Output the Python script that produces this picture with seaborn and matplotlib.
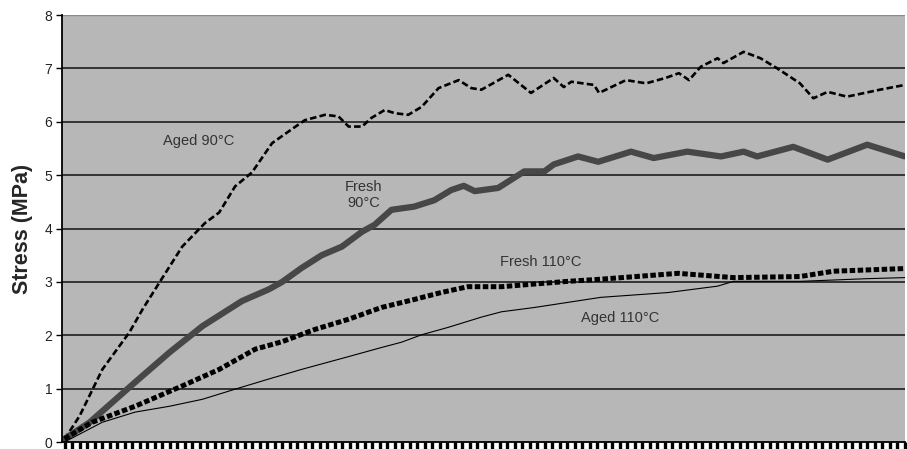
import numpy as np
import matplotlib
matplotlib.use("Agg")
import matplotlib.pyplot as plt
import seaborn as sns

# strain position (percent of test length) and stress (MPa)
aged90_x = [0.0, 1.8, 4.5, 7.7, 9.3, 11.3, 14.0, 16.7, 18.4, 20.3, 22.3, 24.7, 27.4, 28.6,
            31.0, 32.6, 33.8, 35.4, 36.5, 38.1, 39.3, 40.9, 42.5, 44.5, 46.9, 48.4, 49.6,
            52.8, 55.5, 58.2, 59.4, 60.3, 63.0, 63.6, 66.8, 69.2, 71.5, 73.1, 74.3, 75.7,
            77.7, 78.4, 80.8, 82.8, 84.8, 87.5, 89.1, 90.8, 93.1, 97.0, 100.0]
aged90_y = [0.05, 0.49, 1.36, 2.05, 2.49, 2.99, 3.66, 4.10, 4.30, 4.79, 5.05, 5.60, 5.90, 6.03,
            6.13, 6.10, 5.91, 5.91, 6.07, 6.22, 6.16, 6.13, 6.28, 6.63, 6.78, 6.63, 6.60,
            6.88, 6.54, 6.82, 6.65, 6.75, 6.69, 6.54, 6.78, 6.72, 6.82, 6.91, 6.78, 7.03,
            7.19, 7.10, 7.31, 7.19, 7.00, 6.72, 6.44, 6.56, 6.47, 6.60, 6.69]

fresh90_x = [0.0, 3.0, 8.4, 12.5, 16.4, 21.1, 24.3, 25.9, 28.2, 30.6, 33.0, 35.4, 36.9,
             38.9, 41.6, 44.0, 46.0, 47.5, 48.8, 51.6, 54.7, 57.1, 58.2, 61.1, 63.5, 67.4,
             70.1, 74.1, 78.1, 80.8, 82.4, 86.7, 90.8, 95.5, 100.0]
fresh90_y = [0.06, 0.37, 1.12, 1.68, 2.17, 2.64, 2.86, 3.00, 3.26, 3.50, 3.66, 3.94, 4.07,
             4.35, 4.41, 4.53, 4.72, 4.80, 4.70, 4.76, 5.07, 5.07, 5.20, 5.35, 5.25, 5.44,
             5.32, 5.44, 5.35, 5.44, 5.35, 5.53, 5.29, 5.57, 5.35]

fresh110_x = [0.0, 3.3, 8.4, 14.0, 18.4, 22.7, 25.9, 29.8, 33.8, 37.7, 41.6, 44.8, 48.0,
              52.0, 59.9, 63.8, 73.0, 79.6, 87.5, 91.5, 100.0]
fresh110_y = [0.06, 0.37, 0.67, 1.05, 1.36, 1.74, 1.88, 2.11, 2.30, 2.52, 2.67, 2.80, 2.91,
              2.91, 3.01, 3.05, 3.16, 3.08, 3.10, 3.20, 3.25]

aged110_x = [0.0, 4.5, 8.4, 12.5, 16.4, 20.3, 24.3, 28.2, 33.8, 37.7, 40.1, 42.5, 45.7,
             49.6, 52.0, 55.9, 63.8, 71.8, 77.7, 79.6, 87.5, 95.5, 100.0]
aged110_y = [0.0, 0.37, 0.56, 0.67, 0.80, 0.99, 1.18, 1.36, 1.60, 1.77, 1.87, 2.01, 2.15,
             2.34, 2.44, 2.52, 2.71, 2.80, 2.92, 3.01, 3.01, 3.06, 3.08]

y_ticks = [0, 1, 2, 3, 4, 5, 6, 7, 8]

sns.set_style("white", {"axes.facecolor": "#b7b7b7"})
plt.rcParams["font.family"] = ["Liberation Sans", "DejaVu Sans"]

fig = plt.figure(figsize=(9.07, 4.49), dpi=100)
ax = fig.add_axes([62 / 907, 7 / 449, 843 / 907, 427 / 449])

sns.lineplot(x=aged90_x, y=aged90_y, ax=ax, color="black", linewidth=1.9,
             linestyle=(0, (2.5, 1.2)))
sns.lineplot(x=fresh90_x, y=fresh90_y, ax=ax, color="#474747", linewidth=4.5)
sns.lineplot(x=fresh110_x, y=fresh110_y, ax=ax, color="black", linewidth=3.6,
             linestyle=(0, (1.1, 0.5)))
sns.lineplot(x=aged110_x, y=aged110_y, ax=ax, color="black", linewidth=0.8)

ax.set_xlim(-0.3, 100)
ax.set_ylim(0, 8)
ax.set_yticks(y_ticks)
for v in y_ticks[1:-1]:
    ax.axhline(v, color="#2a2a2a", linewidth=1.3, zorder=0.5)
ax.axhline(8, color="#8a8a8a", linewidth=1.0, zorder=0.5)

ax.set_xticks(np.linspace(0, 100, 113))
ax.set_xticklabels([])
ax.tick_params(axis="x", bottom=True, direction="out", length=5, width=2.4, color="black")
ax.tick_params(axis="y", left=True, direction="out", length=4, width=1, color="black",
               labelsize=10, labelcolor="#222222", pad=3)

for side in ["top", "right"]:
    ax.spines[side].set_visible(False)
for side in ["left", "bottom"]:
    ax.spines[side].set_color("black")
    ax.spines[side].set_linewidth(1.3)

ax.set_xlabel("")
ax.set_ylabel("Stress (MPa)", fontsize=15.5, fontweight="bold", labelpad=8)

txt = dict(fontsize=10.5, color="#333333", ha="center", va="center")
ax.text(16.0, 5.63, "Aged 90°C", **txt)
ax.text(35.6, 4.63, "Fresh\n90°C", linespacing=1.2, **txt)
ax.text(56.7, 3.38, "Fresh 110°C", **txt)
ax.text(66.1, 2.32, "Aged 110°C", **txt)

fig.savefig("out.png", dpi=100)
